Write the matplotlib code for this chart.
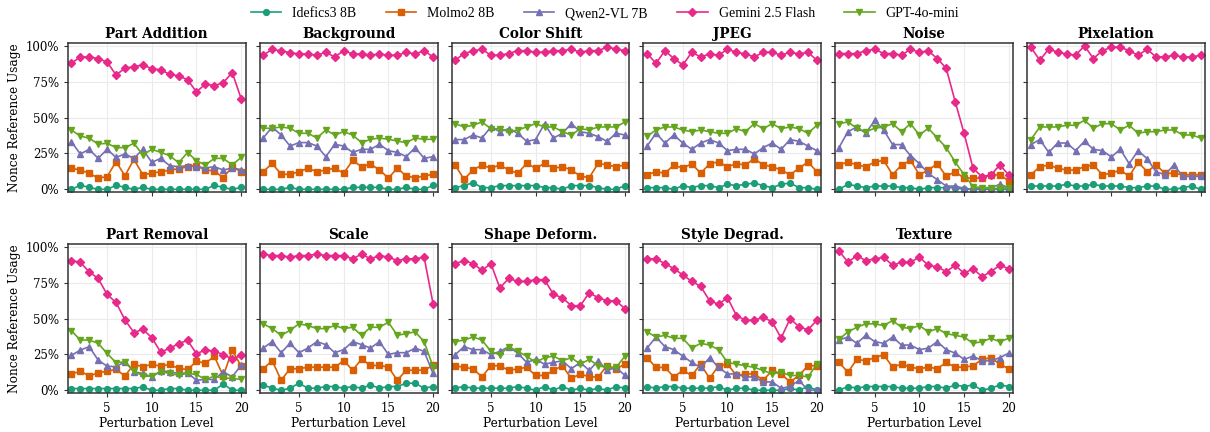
import numpy as np
import matplotlib.pyplot as plt
from matplotlib.ticker import PercentFormatter

# Perturbation levels
levels = list(range(1, 21))

models = ["Idefics3 8B", "Molmo2 8B", "Qwen2-VL 7B", "Gemini 2.5 Flash", "GPT-4o-mini"]
colors = ["#1b9e77", "#d95f02", "#7570b3", "#e7298a", "#66a61e"]
markers = ["o", "s", "^", "D", "v"]

titles = ["Part Addition", "Background", "Color Shift", "JPEG", "Noise", "Pixelation",
          "Part Removal", "Scale", "Shape Deform.", "Style Degrad.", "Texture"]

# values in percent, one list per model, per perturbation
idefics = [
    [0, 2.8, 1.4, 0, 0, 2.8, 1.4, 0, 1.4, 0, 0, 0, 0, 0, 0, 0, 2.8, 1.4, 0, 1.4],
    [0, 0, 0, 1.4, 0, 0, 0, 0, 0, 0, 1.4, 1.4, 1.4, 1.4, 0, 0, 1.4, 0, 0, 2.8],
    [1.2, 2.6, 4.7, 1.2, 1.2, 2.6, 2.6, 2.6, 2.6, 2.6, 1.2, 1.2, 0, 2.6, 2.6, 2.6, 1.2, 0, 0, 2.6],
    [1.2, 1.2, 1.2, 0, 2.6, 1.2, 2.6, 2.6, 1.2, 3.5, 2.6, 3.5, 4.4, 2.6, 1.2, 3.5, 4.4, 1.2, 1.2, 0],
    [0, 3.5, 2.3, 1.2, 2.3, 2.3, 2.3, 1.2, 1.2, 0, 1.2, 1.2, 1.2, 1.2, 0, 0, 0, 0, 0, 0],
    [2.3, 2.3, 2.3, 2.3, 3.5, 2.3, 2.3, 3.5, 2.3, 2.3, 2.3, 1.2, 1.2, 2.3, 2.3, 0, 0, 1.2, 2.3, 0],
    [1.2, 1.2, 1.2, 1.2, 1.2, 1.2, 1.2, 1.2, 2.3, 0, 0, 1.2, 1.2, 0, 0, 0, 0, 4.4, 0, 0],
    [3.7, 1.4, 0, 1.4, 4.9, 1.4, 1.4, 2.6, 2.6, 1.4, 2.6, 1.4, 3.7, 1.4, 2.6, 2.6, 4.9, 4.9, 1.4, 2.6],
    [1.4, 2.6, 1.4, 1.4, 1.4, 1.4, 1.4, 2.6, 1.4, 0, 2.6, 0, 2.6, 0, 1.4, 0, 1.4, 0, 2.6, 1.4],
    [2.6, 1.4, 2.6, 2.6, 1.4, 1.4, 1.4, 1.4, 2.6, 0, 1.4, 1.4, 0, 0, 0, 0, 1.4, 0, 2.6, 0],
    [0, 2.6, 1.4, 2.6, 2.6, 2.6, 2.6, 1.4, 1.4, 1.4, 2.6, 2.6, 1.4, 3.7, 2.6, 3.7, 0, 1.4, 3.7, 2.6],
]
molmo = [
    [14.7, 13.5, 11.2, 7.9, 8.8, 19.3, 9.5, 20.9, 10.2, 11.2, 12.3, 13.3, 14.4, 15.8, 16.5, 13.5, 12.8, 8.1, 15.8, 12.3],
    [12.3, 18.1, 10.5, 10.5, 12.3, 14.7, 12.3, 13.5, 14.7, 11.2, 20.2, 15.8, 17.7, 13.5, 7.9, 14.7, 9.3, 8.1, 9.3, 10.5],
    [17.0, 7.0, 13.5, 17.0, 14.7, 17.0, 13.5, 11.2, 18.1, 14.7, 18.1, 14.7, 15.8, 13.5, 9.3, 8.1, 18.1, 17.0, 15.8, 17.0],
    [10.2, 12.3, 11.2, 17.0, 14.7, 17.9, 11.2, 17.9, 19.1, 15.8, 17.9, 17.0, 21.4, 17.0, 15.8, 13.5, 10.2, 14.7, 19.1, 12.3],
    [17.0, 19.1, 17.0, 15.8, 19.1, 20.2, 10.2, 17.0, 20.2, 10.2, 13.5, 17.9, 9.1, 12.3, 7.9, 7.9, 7.9, 10.2, 10.2, 5.8],
    [10.2, 15.8, 17.0, 14.7, 13.5, 13.5, 15.8, 17.0, 10.2, 11.2, 13.5, 9.1, 19.1, 12.3, 17.0, 11.2, 11.2, 10.2, 10.2, 10.2],
    [11.2, 13.3, 10.0, 12.1, 13.3, 14.5, 10.0, 18.0, 16.4, 18.0, 16.8, 18.0, 15.2, 14.5, 20.1, 18.9, 23.6, 10.0, 28.0, 16.8],
    [15.0, 20.6, 7.0, 15.0, 15.0, 16.1, 16.1, 16.1, 16.1, 20.6, 14.0, 21.7, 17.3, 17.3, 16.1, 7.0, 14.0, 14.0, 14.0, 17.3],
    [17.1, 15.9, 15.0, 9.3, 17.1, 17.1, 13.8, 15.0, 15.9, 10.3, 10.3, 13.8, 17.1, 8.2, 11.4, 9.3, 9.3, 17.1, 15.0, 18.2],
    [22.7, 15.9, 15.9, 9.3, 13.8, 10.3, 18.2, 8.2, 17.1, 18.2, 10.3, 11.4, 11.4, 7.0, 13.8, 11.4, 5.8, 10.3, 17.1, 17.1],
    [19.4, 12.6, 21.5, 20.6, 22.7, 24.8, 16.1, 18.2, 16.1, 15.0, 16.1, 15.0, 19.4, 16.1, 16.1, 17.1, 21.5, 22.7, 18.2, 15.0],
]
qwen = [
    [33.3, 24.7, 27.9, 21.6, 27.9, 22.3, 24.7, 21.6, 27.9, 18.8, 21.6, 16.5, 15.8, 16.5, 15.8, 14.9, 15.8, 13.5, 14.9, 13.7],
    [35.8, 43.5, 37.9, 30.2, 32.6, 32.6, 30.2, 22.8, 31.4, 30.2, 25.8, 27.9, 27.9, 31.4, 27.0, 25.8, 22.8, 29.1, 21.6, 22.8],
    [34.7, 34.7, 37.9, 35.8, 43.5, 40.2, 42.3, 39.1, 33.5, 34.7, 45.8, 35.8, 39.1, 45.8, 40.2, 39.1, 36.7, 33.5, 39.1, 37.9],
    [30.2, 39.1, 32.3, 37.9, 32.3, 27.9, 32.3, 34.7, 32.3, 27.0, 27.9, 27.9, 24.7, 29.1, 32.3, 27.9, 34.7, 33.5, 30.2, 27.0],
    [29.1, 40.2, 43.5, 39.1, 48.1, 41.4, 31.2, 31.2, 23.5, 17.9, 11.2, 6.7, 2.3, 2.3, 0.7, 0, 1.2, 1.2, 3.5, 1.2],
    [31.2, 34.7, 25.8, 32.3, 32.3, 27.0, 33.5, 27.9, 27.0, 22.6, 27.9, 17.9, 27.0, 21.4, 12.3, 10.2, 17.0, 9.1, 9.1, 9.1],
    [24.3, 28.0, 30.4, 21.0, 16.8, 16.4, 19.9, 12.9, 11.7, 9.3, 13.6, 12.9, 11.7, 12.1, 7.0, 7.5, 7.5, 12.9, 9.3, 17.5],
    [29.4, 33.9, 26.2, 32.7, 26.2, 29.4, 33.9, 31.8, 26.2, 28.3, 33.9, 31.8, 29.4, 33.9, 25.0, 26.2, 26.2, 29.4, 27.1, 11.7],
    [24.8, 30.4, 28.3, 28.3, 24.8, 27.1, 30.4, 25.9, 19.4, 21.5, 18.2, 19.4, 20.6, 15.0, 19.4, 13.8, 20.6, 13.8, 15.9, 10.3],
    [29.4, 37.1, 30.4, 28.3, 23.8, 19.4, 15.9, 22.7, 15.9, 11.4, 11.4, 9.3, 9.3, 5.8, 5.8, 1.4, 2.6, 7.0, 0, 0],
    [35.0, 37.1, 32.7, 38.3, 33.9, 32.7, 37.1, 31.5, 31.5, 28.3, 29.4, 33.9, 28.3, 25.9, 21.5, 23.8, 20.6, 20.6, 22.7, 25.9],
]
gemini = [
    [87.9, 92.3, 92.3, 91.2, 88.8, 79.8, 84.4, 85.6, 86.7, 84.2, 83.3, 80.2, 79.1, 76.5, 67.9, 73.5, 72.3, 74.4, 81.4, 63.3],
    [93.5, 97.7, 96.5, 95.3, 94.4, 94.4, 93.5, 95.6, 92.3, 96.7, 94.4, 94.4, 93.5, 94.4, 93.5, 93.5, 95.6, 94.4, 96.7, 92.3],
    [90.0, 94.7, 96.5, 97.7, 93.5, 93.5, 94.7, 96.7, 96.7, 95.6, 95.6, 96.7, 96.7, 97.7, 95.6, 96.7, 96.7, 99.1, 97.9, 96.7],
    [94.7, 87.9, 96.7, 91.2, 86.7, 95.6, 92.3, 94.4, 93.5, 97.7, 95.6, 94.4, 92.3, 95.6, 95.6, 93.5, 95.6, 94.4, 95.6, 90.0],
    [94.7, 94.7, 94.7, 96.7, 97.7, 94.7, 94.7, 93.5, 97.7, 95.6, 96.5, 91.2, 84.4, 61.2, 39.1, 14.7, 8.8, 10.0, 17.0, 10.0],
    [99.1, 90.0, 97.9, 95.6, 94.4, 93.5, 100, 91.2, 96.7, 99.1, 99.1, 96.7, 93.5, 97.7, 92.3, 92.3, 93.5, 92.3, 92.3, 93.5],
    [90.4, 89.3, 82.5, 78.0, 66.8, 61.2, 49.1, 40.2, 42.5, 36.7, 26.6, 29.2, 32.5, 34.8, 25.5, 28.0, 27.3, 24.8, 21.7, 24.3],
    [94.9, 93.9, 93.9, 92.8, 93.9, 93.9, 94.9, 93.9, 93.9, 93.9, 91.6, 94.9, 91.6, 93.9, 92.8, 90.4, 91.6, 91.6, 92.8, 60.3],
    [88.3, 90.4, 88.3, 83.6, 88.3, 71.3, 78.0, 75.9, 75.9, 77.1, 77.1, 66.8, 64.5, 58.9, 58.9, 68.0, 64.5, 62.4, 62.4, 56.8],
    [91.6, 91.6, 88.3, 84.8, 80.4, 75.9, 72.4, 62.4, 60.0, 64.5, 52.1, 48.8, 48.8, 50.9, 47.7, 36.4, 49.8, 44.4, 42.1, 48.8],
    [97.2, 89.3, 93.9, 90.4, 91.6, 92.8, 87.1, 89.3, 89.3, 92.8, 87.1, 86.0, 82.7, 87.1, 81.5, 84.8, 79.2, 82.7, 87.1, 84.8],
]
gpt = [
    [41.4, 37.2, 35.6, 31.6, 32.1, 29.1, 29.1, 32.1, 24.0, 27.9, 25.8, 23.5, 18.6, 25.6, 20.0, 17.0, 21.6, 21.6, 17.0, 22.3],
    [42.6, 42.6, 43.5, 42.6, 39.1, 39.1, 35.8, 41.4, 37.9, 40.2, 37.9, 32.6, 34.9, 35.8, 34.9, 33.7, 32.6, 35.8, 34.9, 34.9],
    [45.8, 43.5, 44.7, 47.0, 42.3, 42.3, 40.2, 41.4, 43.5, 45.8, 43.5, 43.5, 40.2, 37.9, 42.3, 41.4, 43.5, 43.5, 43.5, 47.0],
    [37.0, 41.4, 43.5, 43.5, 41.4, 40.2, 41.4, 40.2, 39.1, 39.1, 42.3, 40.2, 45.8, 42.3, 45.8, 42.3, 43.5, 42.3, 39.1, 44.7],
    [45.8, 47.0, 42.6, 40.2, 42.6, 43.5, 45.8, 40.2, 45.8, 37.9, 42.6, 35.8, 29.1, 19.1, 10.2, 1.9, 1.2, 0.7, 0.7, 1.2],
    [34.7, 43.5, 43.5, 43.5, 44.7, 44.7, 48.1, 42.6, 45.8, 45.8, 41.4, 44.7, 39.1, 40.2, 40.2, 41.4, 41.4, 37.9, 37.9, 35.8],
    [41.6, 35.0, 35.0, 32.7, 25.7, 19.2, 19.9, 13.6, 9.8, 9.8, 12.9, 11.7, 10.5, 11.7, 11.0, 7.5, 9.8, 8.4, 8.4, 7.5],
    [46.3, 43.0, 38.3, 41.8, 46.3, 45.1, 43.0, 43.0, 45.1, 43.0, 43.9, 38.3, 43.9, 43.9, 47.4, 38.3, 39.5, 40.7, 33.9, 16.4],
    [33.9, 35.0, 37.1, 35.0, 27.1, 24.8, 30.4, 27.1, 23.8, 19.4, 22.7, 23.8, 20.6, 22.7, 18.2, 21.5, 17.1, 15.9, 15.9, 23.8],
    [40.7, 37.1, 38.3, 36.2, 36.2, 29.4, 32.7, 31.5, 28.3, 19.4, 18.2, 17.1, 15.9, 13.8, 11.4, 12.6, 10.3, 10.3, 9.3, 18.2],
    [35.5, 40.7, 43.9, 46.3, 46.3, 45.1, 48.6, 43.9, 43.0, 45.1, 40.7, 43.0, 39.5, 38.3, 37.1, 32.7, 33.9, 36.2, 33.9, 36.2],
]

all_series = [idefics, molmo, qwen, gemini, gpt]

plt.rcParams['font.family'] = ['DejaVu Serif']

fig, axes = plt.subplots(2, 6, figsize=(12.1, 4.32), dpi=100, sharex=True, sharey=True)
fig.subplots_adjust(left=0.056, right=0.996, top=0.900, bottom=0.091, wspace=0.079, hspace=0.352)

for i, title in enumerate(titles):
    ax = axes.flat[i]
    for m in range(len(models)):
        vals = np.array(all_series[m][i]) / 100.0
        ax.plot(levels, vals, color=colors[m], marker=markers[m], markersize=4.2,
                linewidth=1.2, label=models[m])
    ax.set_title(title, fontsize=9.8, fontweight='bold', pad=4)
    ax.grid(True, color='#ebebeb', linewidth=0.8)
    ax.set_axisbelow(True)
    for sp in ax.spines.values():
        sp.set_color('#333333')
        sp.set_linewidth(1.1)
    ax.tick_params(labelsize=8.5, length=3, color='#333333')

axes.flat[11].axis('off')

ax0 = axes.flat[0]
ax0.set_xlim(0.6, 20.5)
ax0.set_ylim(-0.017, 1.019)
ax0.set_xticks([5, 10, 15, 20])
ax0.set_yticks([0, 0.25, 0.5, 0.75, 1.0])
ax0.yaxis.set_major_formatter(PercentFormatter(1.0, decimals=0))

for ax in axes[1, :5]:
    ax.set_xlabel("Perturbation Level", fontsize=8.7, labelpad=2)
axes[0, 5].tick_params(labelbottom=False)
for ax in axes[:, 0]:
    ax.set_ylabel("Nonce Reference Usage", fontsize=8.7, labelpad=3)

handles, labels = ax0.get_legend_handles_labels()
fig.legend(handles, labels, loc='upper center', ncol=5, frameon=False,
           prop={'family': 'Liberation Serif', 'size': 10}, bbox_to_anchor=(0.5, 1.012),
           columnspacing=2.1, handlelength=2.2)

fig.savefig("out.png", dpi=100)
